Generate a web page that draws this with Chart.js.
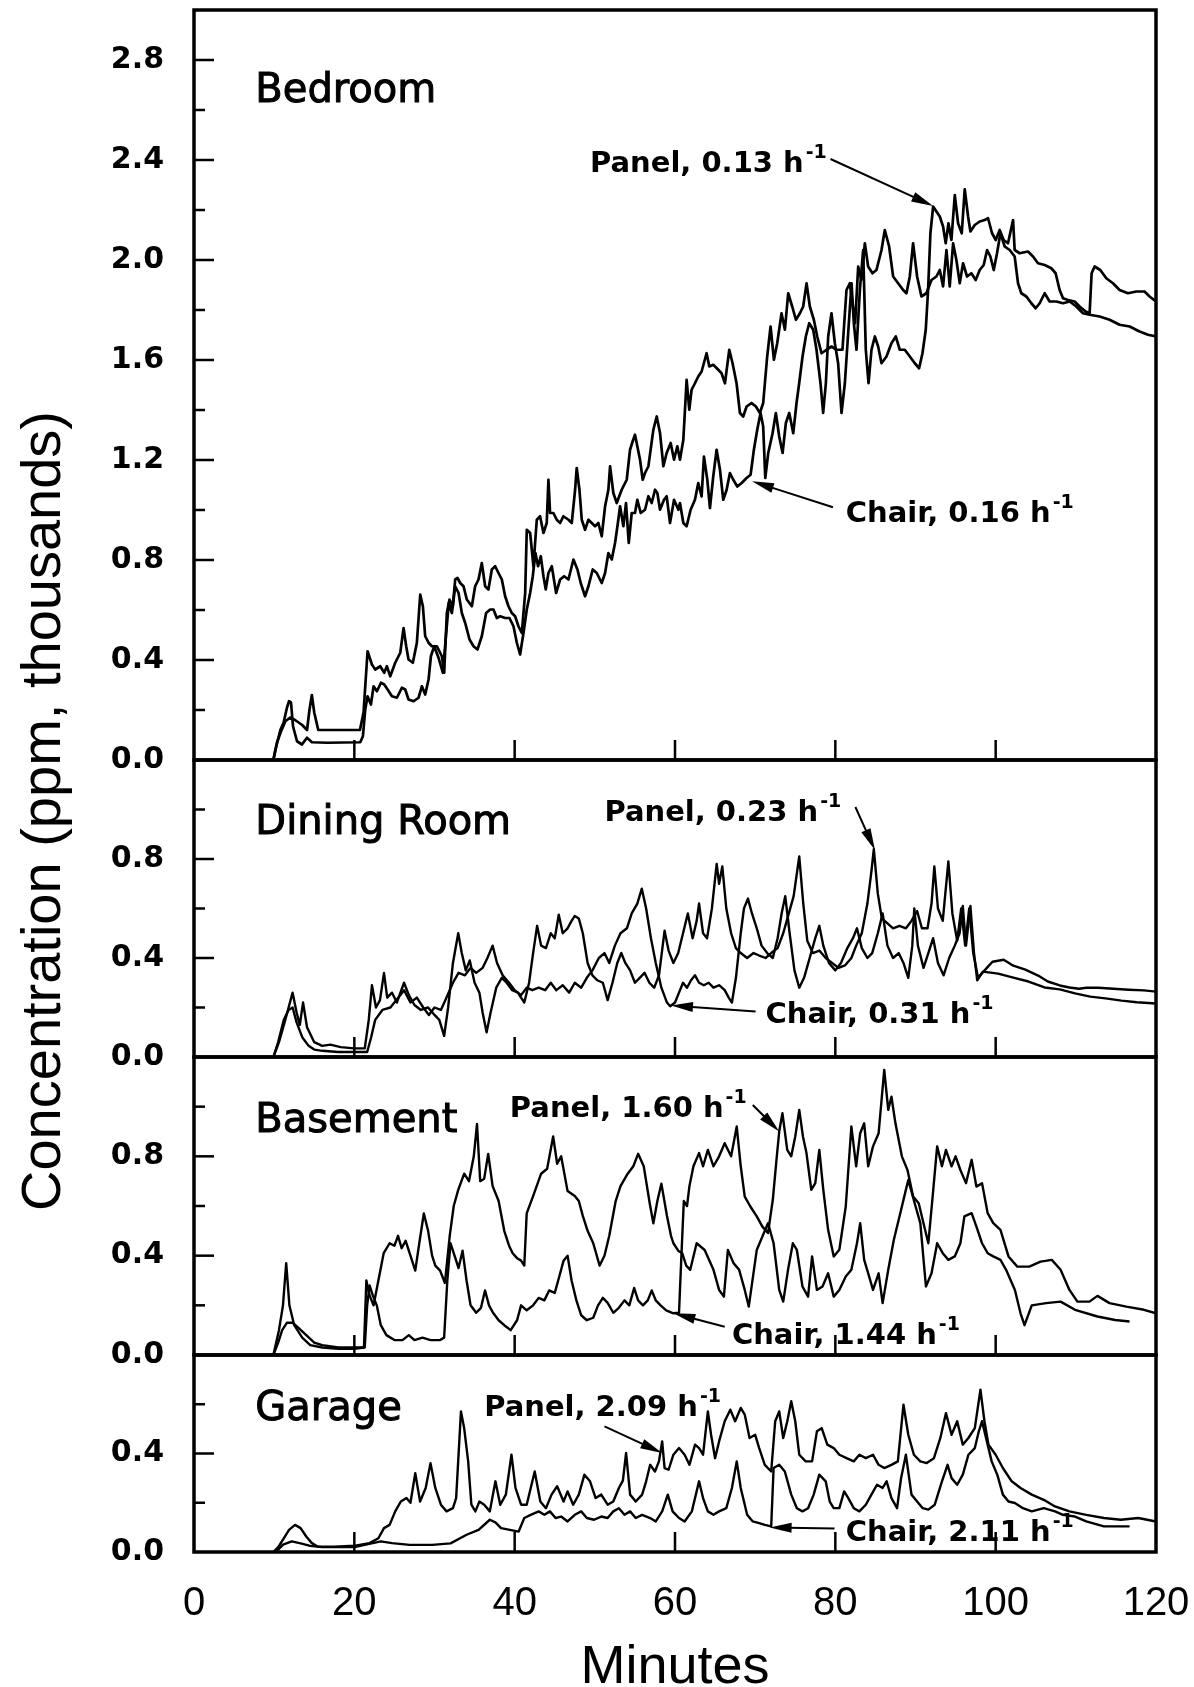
<!DOCTYPE html>
<html>
<head>
<meta charset="utf-8">
<script src="https://cdn.jsdelivr.net/npm/chart.js@4.4.0/dist/chart.umd.min.js"></script>
<style>
  html, body { margin: 0; padding: 0; background: #fff; }
  #page { position: relative; width: 1194px; height: 1687px; overflow: hidden; background: #fff; }
  #ytitle {
    position: absolute; left: -412px; top: 781px; width: 900px; height: 60px;
    line-height: 60px; text-align: center; white-space: nowrap; color: #000;
    font: 56px "Liberation Sans", Arial, sans-serif; transform: rotate(-90deg);
  }
</style>
</head>
<body>
<div id="page">
  <div id="ytitle">Concentration (ppm, thousands)</div>
</div>
<script>
// minutes on the shared x axis
const minuteTicks = [0, 20, 40, 60, 80, 100, 120];

// each series is [minute, concentration (ppm, thousands)]
const bedroomLineA = [[9.9,0],[10.35,0.07],[10.8,0.11],[11.4,0.155],[12.0,0.17],[12.6,0.16],[13.5,0.14],[14.1,0.12],[14.4,0.2],[14.7,0.26],[15.0,0.19],[15.5,0.12],[20.7,0.12],[21.15,0.19],[21.65,0.435],
  [22.19,0.382],[22.61,0.362],[23.23,0.375],[23.73,0.349],[24.06,0.375],[24.48,0.335],[25.1,0.389],[25.73,0.429],[26.14,0.528],[26.47,0.455],[26.76,0.402],[27.3,0.389],[27.8,0.469],[28.22,0.662],[28.55,0.615],[28.84,0.495],[29.26,0.469],[29.67,0.455],[30.3,0.455],[30.92,0.415],[31.21,0.349],[31.54,0.588],[31.87,0.642],[32.29,0.615],[32.58,0.722],[32.87,0.728],[33.2,0.708],[33.62,0.695],[34.03,0.642],[34.66,0.615],[35.07,0.695],[35.49,0.722],[35.9,0.788],[36.32,0.695],[36.73,0.682],[37.15,0.762],[37.57,0.775],[37.98,0.748],[38.4,0.722],[38.81,0.655],[39.23,0.615],[39.64,0.588],[40.06,0.575],[40.47,0.535],[40.89,0.508],[41.31,0.668],[41.51,0.921],[41.93,0.908],[42.34,0.775],[42.76,0.961],[43.17,0.975],[43.59,0.908],[44.0,0.948],[44.21,1.121],[44.42,0.988],[44.83,0.988],[45.25,0.961],[45.67,0.948],[46.08,0.975],[46.71,0.961],[47.12,0.948],[47.54,1.081],[47.74,1.168],[48.08,1.081],[48.37,0.961],[48.78,0.921],[49.2,0.961],[49.61,0.948],[50.03,0.935],[50.44,0.948],[50.86,0.895],[51.28,1.015],[51.69,1.081],[51.9,1.175],[52.31,1.068],[52.73,1.028],[53.35,1.081],[53.98,1.121],[54.39,1.241],[54.72,1.275],[55.01,1.301],[55.3,1.255],[55.64,1.201],[55.97,1.121],[56.26,1.148],[56.68,1.175],[57.3,1.321],[57.72,1.374],[58.13,1.308],[58.55,1.175],[58.96,1.228],[59.46,1.268],[59.88,1.201],[60.29,1.255],[60.62,1.201],[61.04,1.281],[61.45,1.521],[61.78,1.401],[62.07,1.481],[62.49,1.507],[62.9,1.534],[63.32,1.554],[63.94,1.627],[64.28,1.574],[64.77,1.581],[65.4,1.561],[65.81,1.547],[66.23,1.507],[66.77,1.641],[67.18,1.587],[67.68,1.507],[68.1,1.388],[68.51,1.374],[68.93,1.414],[69.55,1.428],[70.09,1.414],[70.59,1.388],[71.0,1.428],[71.5,1.614],[71.92,1.734],[72.34,1.601],[72.75,1.667],[73.29,1.787],[73.71,1.721],[74.12,1.867],[74.62,1.814],[75.08,1.761],[75.58,1.787],[75.99,1.814],[76.41,1.907],[76.82,1.814],[77.32,1.761],[77.74,1.694],[78.28,1.627],[78.9,1.641],[79.52,1.654],[80.15,1.641],[80.89,1.641],[81.39,1.88],[81.81,1.907],[82.14,1.827],[82.47,1.747],[82.85,1.974],[83.26,1.92],[83.68,2.067],[84.09,1.974],[84.63,1.947],[85.13,1.96],[85.76,2.04],[86.17,2.12],[86.71,2.054],[87.21,1.934],[87.83,1.907],[88.46,1.88],[88.87,1.867],[89.29,1.934],[89.7,2.067],[90.2,1.934],[90.74,1.854],[91.36,1.867],[91.99,1.92],[92.61,1.934],[93.03,1.96],[93.44,1.894],[93.86,2.04],[94.27,1.894],[94.69,2.067],[95.1,2.0],[95.52,1.907],[95.93,1.987],[96.43,1.934],[96.97,1.947],[97.51,1.92],[98.01,1.96],[98.51,1.98],[98.93,2.04],[99.34,2.014],[99.76,1.96],[100.17,2.027],[100.59,2.107],[101.13,2.054],[101.75,2.04],[102.37,2.014],[102.79,1.907],[103.2,1.867],[103.83,1.854],[104.45,1.827],[104.99,1.807],[105.49,1.827],[106.11,1.867],[106.73,1.834],[107.57,1.834],[108.4,1.827],[109.23,1.834],[110.06,1.814],[110.89,1.787],[111.72,1.781],[112.97,1.774],[114.21,1.761],[115.46,1.741],[116.71,1.734],[117.95,1.714],[119.0,1.701],[120,1.694]];

const bedroomLineB = [[9.9,0],[10.15,0.04],[10.77,0.12],[11.18,0.15],[11.6,0.21],[11.85,0.235],[12.1,0.23],[12.35,0.135],[12.85,0.075],[13.47,0.062],[14.09,0.089],[14.72,0.071],[16.6,0.069],[20.74,0.071],[21.07,0.095],[21.36,0.202],[21.65,0.255],[22.07,0.222],[22.4,0.295],[22.82,0.275],[23.32,0.309],[23.73,0.302],[24.15,0.282],[24.69,0.255],[25.31,0.249],[25.93,0.289],[26.35,0.282],[26.76,0.242],[27.39,0.235],[28.01,0.249],[28.43,0.295],[28.84,0.262],[29.26,0.322],[29.55,0.415],[29.96,0.455],[30.5,0.409],[31.04,0.349],[31.46,0.508],[31.79,0.628],[32.17,0.588],[32.58,0.695],[33.0,0.668],[33.41,0.588],[33.83,0.548],[34.37,0.482],[34.87,0.455],[35.36,0.442],[35.9,0.495],[36.44,0.588],[36.94,0.602],[37.36,0.602],[37.77,0.568],[38.19,0.575],[38.81,0.568],[39.35,0.568],[39.85,0.535],[40.27,0.469],[40.68,0.422],[41.1,0.508],[41.51,0.602],[41.93,0.668],[42.26,0.735],[42.59,0.828],[42.92,0.775],[43.26,0.815],[43.59,0.735],[43.88,0.682],[44.21,0.748],[44.63,0.775],[45.17,0.668],[45.67,0.722],[46.17,0.735],[46.71,0.722],[47.33,0.802],[47.83,0.762],[48.24,0.708],[48.78,0.655],[49.2,0.695],[49.74,0.762],[50.24,0.748],[50.86,0.708],[51.28,0.748],[51.69,0.828],[52.11,0.802],[52.52,0.868],[52.82,0.935],[53.15,1.015],[53.56,0.935],[53.89,1.028],[54.23,0.868],[54.6,0.988],[55.01,0.988],[55.3,1.041],[55.72,0.988],[56.26,1.001],[56.68,1.055],[57.09,1.028],[57.51,1.081],[57.8,1.068],[58.13,1.001],[58.63,1.041],[58.96,1.055],[59.38,0.948],[59.88,1.041],[60.42,1.001],[60.62,1.028],[61.04,0.948],[61.45,0.935],[61.95,1.001],[62.49,1.041],[62.9,1.108],[63.32,1.054],[63.61,1.214],[64.03,1.121],[64.36,1.008],[64.77,1.134],[65.19,1.241],[65.61,1.161],[66.02,1.041],[66.44,1.081],[66.85,1.148],[67.27,1.121],[67.77,1.094],[68.31,1.108],[68.93,1.128],[69.43,1.141],[69.84,1.241],[70.26,1.321],[70.67,1.388],[71.0,1.334],[71.26,1.128],[71.63,1.228],[72.17,1.307],[72.58,1.388],[73.0,1.294],[73.42,1.228],[73.83,1.348],[74.25,1.388],[74.75,1.307],[75.16,1.428],[75.49,1.507],[75.91,1.614],[76.32,1.694],[76.74,1.747],[77.24,1.721],[77.65,1.641],[78.15,1.507],[78.48,1.388],[78.82,1.507],[79.11,1.694],[79.52,1.787],[79.94,1.667],[80.35,1.587],[80.77,1.388],[81.19,1.507],[81.6,1.707],[82.02,1.907],[82.31,1.747],[82.64,1.641],[83.06,1.88],[83.47,2.04],[83.8,1.641],[84.14,1.507],[84.51,1.641],[84.93,1.694],[85.34,1.654],[85.76,1.587],[86.38,1.614],[87.0,1.667],[87.54,1.694],[88.04,1.641],[88.66,1.641],[89.29,1.614],[89.91,1.587],[90.45,1.567],[90.87,1.627],[91.28,1.721],[91.57,1.88],[91.86,2.107],[92.2,2.214],[92.61,2.194],[93.03,2.174],[93.44,2.134],[93.77,2.067],[94.11,2.147],[94.48,2.08],[94.9,2.26],[95.31,2.147],[95.77,2.107],[96.14,2.283],[96.56,2.174],[96.85,2.114],[97.39,2.14],[98.01,2.154],[98.63,2.16],[99.05,2.167],[99.55,2.107],[100.01,2.08],[100.5,2.12],[101.0,2.08],[101.54,2.067],[102.08,2.147],[102.17,2.16],[102.37,2.04],[102.99,2.027],[104.03,2.034],[104.66,2.014],[105.28,1.987],[106.11,1.98],[106.94,1.967],[107.48,1.947],[107.98,1.88],[108.4,1.847],[109.02,1.84],[109.85,1.834],[110.47,1.814],[111.22,1.794],[111.72,1.787],[111.97,1.947],[112.34,1.974],[113.05,1.96],[113.8,1.927],[114.63,1.907],[115.46,1.88],[116.5,1.867],[117.54,1.874],[118.57,1.874],[119.2,1.854],[120,1.834]];

const diningLineA = [[9.9,0],[10.6,0.06],[11.3,0.14],[11.8,0.2],[12.3,0.26],[12.8,0.18],[13.2,0.13],[13.6,0.22],[14.1,0.12],[15.0,0.06],[16.0,0.045],[17.0,0.05],[18.3,0.04],[20.0,0.035],[21.3,0.035],[21.8,0.15],[22.2,0.29],[22.7,0.2],[23.2,0.23],[23.7,0.34],[24.1,0.24],[24.7,0.26],[25.3,0.22],[26.2,0.3],[26.8,0.25],[27.5,0.21],[28.3,0.19],[29.2,0.2],[30.0,0.17],[30.6,0.15],[31.2,0.085],[31.7,0.2],[32.3,0.38],[32.96,0.5],[33.4,0.42],[33.9,0.35],[34.4,0.39],[35.0,0.3],[35.6,0.26],[36.0,0.18],[36.5,0.1],[37.0,0.18],[37.7,0.28],[38.4,0.32],[39.0,0.3],[39.7,0.27],[40.4,0.26],[41.2,0.22],[41.8,0.3],[42.3,0.42],[42.8,0.53],[43.3,0.45],[43.9,0.44],[44.5,0.5],[45.0,0.48],[45.5,0.575],[46.0,0.5],[46.6,0.52],[47.1,0.55],[47.5,0.57],[48.0,0.56],[48.5,0.5],[49.1,0.38],[49.7,0.33],[50.3,0.31],[51.0,0.3],[51.6,0.23],[52.2,0.3],[52.8,0.38],[53.3,0.42],[53.8,0.38],[54.4,0.35],[55.0,0.3],[55.6,0.32],[56.2,0.34],[56.8,0.3],[57.4,0.28],[58.0,0.33],[58.7,0.51],[59.2,0.43],[59.8,0.38],[60.4,0.42],[61.0,0.5],[61.6,0.58],[62.2,0.48],[62.7,0.55],[63.0,0.62],[63.5,0.5],[64.0,0.48],[64.6,0.6],[65.2,0.78],[65.5,0.7],[65.9,0.77],[66.4,0.6],[67.0,0.5],[67.6,0.44],[68.2,0.42],[69.0,0.4],[69.8,0.42],[70.5,0.41],[71.3,0.4],[72.0,0.42],[72.8,0.44],[73.5,0.5],[74.2,0.58],[74.8,0.65],[75.5,0.81],[76.0,0.62],[76.5,0.47],[77.2,0.42],[78.0,0.43],[78.8,0.4],[79.6,0.38],[80.4,0.36],[81.2,0.37],[82.0,0.4],[82.6,0.45],[83.3,0.5],[84.0,0.62],[84.5,0.75],[84.8,0.84],[85.3,0.66],[85.8,0.56],[86.5,0.54],[87.2,0.52],[88.0,0.53],[88.8,0.52],[89.5,0.55],[90.2,0.59],[90.8,0.52],[91.5,0.52],[92.0,0.62],[92.35,0.77],[92.8,0.6],[93.4,0.55],[94.1,0.79],[94.6,0.58],[95.2,0.47],[95.7,0.6],[96.2,0.45],[96.7,0.6],[97.2,0.42],[97.8,0.32],[98.9,0.36],[99.6,0.385],[101.0,0.393],[102.2,0.369],[103.7,0.353],[105.3,0.329],[106.5,0.305],[108.0,0.289],[109.2,0.281],[110.4,0.276],[111.3,0.28],[112.8,0.28],[114.7,0.276],[116.6,0.272],[118.5,0.269],[120,0.264]];

const diningLineB = [[9.9,0],[10.5,0.06],[11.2,0.15],[11.8,0.19],[12.3,0.2],[12.8,0.14],[13.5,0.08],[14.3,0.045],[15.0,0.03],[16.0,0.025],[18.0,0.02],[20.0,0.02],[21.6,0.02],[22.1,0.08],[22.6,0.15],[23.5,0.19],[24.5,0.2],[25.5,0.24],[26.2,0.27],[27.0,0.22],[27.8,0.24],[28.6,0.2],[29.3,0.17],[30.0,0.2],[30.8,0.19],[31.5,0.24],[32.3,0.3],[33.0,0.34],[33.8,0.33],[34.5,0.36],[35.2,0.34],[36.0,0.36],[36.6,0.4],[37.25,0.45],[37.8,0.38],[38.5,0.33],[39.3,0.3],[40.0,0.27],[40.8,0.25],[41.5,0.28],[42.2,0.27],[43.0,0.28],[43.8,0.27],[44.5,0.3],[45.2,0.27],[46.0,0.29],[46.8,0.26],[47.5,0.3],[48.3,0.28],[49.0,0.32],[49.7,0.35],[50.5,0.4],[51.2,0.42],[51.8,0.38],[52.5,0.45],[53.2,0.5],[54.0,0.52],[54.6,0.58],[55.3,0.62],[55.86,0.68],[56.4,0.6],[57.0,0.48],[57.6,0.38],[58.3,0.28],[59.0,0.22],[59.4,0.205],[60.0,0.22],[60.5,0.26],[61.0,0.3],[61.5,0.28],[62.0,0.31],[62.5,0.33],[63.0,0.3],[63.6,0.29],[64.2,0.3],[64.8,0.28],[65.5,0.29],[66.2,0.27],[66.7,0.24],[67.1,0.22],[67.6,0.32],[68.2,0.5],[68.6,0.6],[69.1,0.64],[69.6,0.58],[70.2,0.52],[70.8,0.45],[71.5,0.42],[72.2,0.4],[72.8,0.48],[73.3,0.58],[73.75,0.65],[74.3,0.5],[74.9,0.35],[75.5,0.28],[76.1,0.32],[76.8,0.4],[77.5,0.48],[78.0,0.53],[78.5,0.45],[79.2,0.38],[80.0,0.35],[80.7,0.38],[81.5,0.44],[82.2,0.48],[82.7,0.52],[83.3,0.44],[84.0,0.4],[84.6,0.42],[85.3,0.5],[85.9,0.58],[86.5,0.45],[87.2,0.4],[87.9,0.42],[88.5,0.38],[89.1,0.32],[89.6,0.45],[89.85,0.6],[90.3,0.45],[91.0,0.36],[91.6,0.42],[92.2,0.48],[92.8,0.38],[93.5,0.33],[94.2,0.4],[94.9,0.45],[95.5,0.5],[95.9,0.61],[96.3,0.45],[96.85,0.61],[97.3,0.42],[97.7,0.31],[98.4,0.345],[100.3,0.337],[102.2,0.321],[104.1,0.305],[106.1,0.281],[108.0,0.273],[109.9,0.257],[111.8,0.244],[113.7,0.237],[115.7,0.228],[117.6,0.221],[120,0.216]];

const basementLineA = [[9.9,0],[10.6,0.1],[11.1,0.2],[11.5,0.37],[11.9,0.2],[12.5,0.12],[13.5,0.07],[14.5,0.04],[16,0.03],[18,0.025],[20,0.025],[21.2,0.03],[21.5,0.3],[21.9,0.24],[22.4,0.2],[23.0,0.3],[23.66,0.41],[24.4,0.45],[25.0,0.44],[25.45,0.48],[25.9,0.43],[26.4,0.46],[27.0,0.4],[27.6,0.34],[28.1,0.45],[28.67,0.57],[29.2,0.5],[29.7,0.4],[30.1,0.36],[30.7,0.34],[31.3,0.29],[31.9,0.48],[32.4,0.6],[32.96,0.665],[33.7,0.73],[34.3,0.7],[34.9,0.8],[35.3,0.93],[35.7,0.7],[36.2,0.71],[36.7,0.81],[37.25,0.68],[38.0,0.62],[38.7,0.5],[39.3,0.44],[39.75,0.41],[40.3,0.39],[40.8,0.38],[41.2,0.36],[41.5,0.57],[42.3,0.64],[43.3,0.73],[44.05,0.75],[44.8,0.88],[45.3,0.77],[45.8,0.8],[46.6,0.66],[47.5,0.64],[48.0,0.62],[48.5,0.56],[49.1,0.5],[49.8,0.45],[50.6,0.36],[51.2,0.4],[51.8,0.48],[52.6,0.62],[53.2,0.68],[54.1,0.73],[54.8,0.76],[55.4,0.81],[56.1,0.76],[56.85,0.61],[57.3,0.53],[57.8,0.62],[58.3,0.69],[59.0,0.56],[59.5,0.48],[59.8,0.45],[60.4,0.42],[60.9,0.41],[61.4,0.36],[61.9,0.343],[62.7,0.45],[63.7,0.423],[64.8,0.343],[65.5,0.262],[66.1,0.235],[66.6,0.423],[67.3,0.37],[68.0,0.343],[68.7,0.262],[69.2,0.195],[70.2,0.423],[71.6,0.531],[72.3,0.45],[73.0,0.262],[73.5,0.215],[74.1,0.343],[74.7,0.45],[75.2,0.423],[75.9,0.276],[76.6,0.235],[77.1,0.397],[77.7,0.262],[78.4,0.276],[79.1,0.329],[79.8,0.235],[80.5,0.262],[81.3,0.316],[82.0,0.343],[82.7,0.45],[83.1,0.531],[83.6,0.383],[84.1,0.329],[84.7,0.262],[85.4,0.329],[85.9,0.209],[86.6,0.343],[87.3,0.464],[88.1,0.571],[88.8,0.665],[89.1,0.705],[89.9,0.611],[90.6,0.531],[91.3,0.276],[92.0,0.329],[92.7,0.45],[93.4,0.41],[94.1,0.383],[94.9,0.397],[95.6,0.45],[96.1,0.558],[97.0,0.571],[97.6,0.517],[98.3,0.45],[99.0,0.41],[99.7,0.397],[100.6,0.383],[101.3,0.343],[102.4,0.262],[103.1,0.168],[103.6,0.12],[104.5,0.2],[106.3,0.209],[108.1,0.215],[109.9,0.182],[112.7,0.155],[114.9,0.141],[116.7,0.135]];

const basementLineB = [[9.9,0],[10.5,0.05],[11.0,0.1],[11.6,0.13],[12.3,0.13],[13.0,0.11],[14.0,0.08],[15.0,0.05],[16.0,0.04],[18.0,0.03],[20.0,0.03],[21.3,0.03],[21.6,0.2],[21.9,0.28],[22.3,0.24],[22.8,0.2],[23.3,0.12],[24.0,0.08],[25.0,0.06],[26.0,0.06],[26.8,0.08],[27.5,0.06],[28.5,0.07],[29.5,0.06],[30.7,0.06],[31.2,0.07],[31.6,0.3],[32.0,0.45],[32.5,0.4],[33.0,0.35],[33.5,0.42],[34.0,0.3],[34.5,0.2],[35.2,0.17],[35.8,0.19],[36.3,0.26],[36.8,0.2],[37.3,0.17],[38.0,0.14],[38.7,0.12],[39.5,0.1],[40.3,0.14],[40.8,0.2],[41.5,0.18],[42.3,0.2],[43.0,0.23],[43.7,0.22],[44.3,0.26],[45.0,0.25],[45.6,0.32],[46.1,0.38],[46.6,0.4],[47.1,0.3],[47.7,0.22],[48.3,0.16],[49.0,0.14],[49.8,0.15],[50.4,0.2],[51.0,0.23],[51.6,0.21],[52.3,0.17],[53.0,0.19],[53.7,0.22],[54.3,0.2],[54.9,0.27],[55.4,0.22],[56.0,0.2],[56.6,0.22],[57.1,0.26],[57.6,0.22],[58.2,0.2],[58.9,0.18],[59.8,0.168],[60.5,0.17],[60.8,0.4],[61.1,0.62],[61.5,0.6],[61.8,0.68],[62.3,0.76],[63.0,0.813],[63.5,0.76],[64.1,0.826],[64.8,0.76],[65.5,0.8],[66.2,0.853],[67.0,0.8],[67.7,0.92],[68.2,0.76],[68.7,0.638],[69.4,0.598],[70.2,0.558],[70.9,0.517],[71.6,0.491],[72.2,0.625],[72.7,0.8],[73.0,0.9],[73.4,0.974],[74.0,0.826],[74.5,0.8],[75.0,0.88],[75.5,0.987],[75.96,0.88],[76.4,0.813],[77.0,0.665],[77.5,0.692],[78.0,0.826],[78.5,0.665],[79.1,0.504],[79.8,0.397],[80.5,0.424],[81.3,0.598],[82.0,0.92],[82.6,0.76],[83.1,0.893],[83.6,0.933],[84.1,0.76],[84.7,0.84],[85.4,0.893],[86.1,1.148],[86.6,0.987],[87.0,1.04],[87.5,0.933],[88.3,0.8],[89.0,0.745],[89.7,0.638],[90.4,0.611],[90.9,0.544],[91.6,0.45],[92.1,0.625],[92.7,0.84],[93.3,0.76],[93.8,0.826],[94.5,0.76],[95.0,0.8],[95.6,0.745],[96.3,0.692],[97.0,0.786],[97.6,0.678],[98.3,0.692],[99.0,0.571],[99.7,0.531],[100.6,0.504],[101.6,0.397],[102.7,0.356],[104.2,0.356],[105.6,0.376],[107.0,0.383],[108.1,0.343],[109.2,0.262],[110.2,0.215],[111.7,0.215],[112.7,0.238],[114.2,0.209],[116.3,0.195],[118.5,0.182],[120,0.168]];

const garageLineA = [[9.9,0],[10.5,0.02],[11.1,0.05],[11.85,0.09],[12.6,0.11],[13.3,0.097],[14.0,0.063],[14.7,0.036],[15.4,0.022],[17.5,0.022],[20.1,0.026],[21.9,0.036],[23.0,0.056],[23.7,0.097],[24.4,0.11],[25.1,0.165],[25.8,0.205],[26.5,0.219],[27.0,0.2],[27.6,0.32],[28.2,0.205],[28.9,0.26],[29.5,0.361],[30.1,0.26],[30.8,0.192],[31.5,0.165],[32.3,0.178],[32.7,0.219],[33.3,0.571],[33.7,0.503],[34.2,0.368],[34.6,0.192],[35.1,0.165],[35.6,0.205],[36.2,0.192],[36.9,0.165],[37.6,0.287],[38.2,0.192],[38.9,0.233],[39.6,0.395],[40.1,0.26],[40.8,0.192],[41.5,0.192],[42.5,0.327],[43.2,0.205],[43.9,0.178],[44.6,0.233],[45.3,0.267],[46.1,0.205],[46.6,0.246],[47.3,0.192],[48.0,0.233],[48.7,0.314],[49.4,0.287],[50.1,0.219],[50.8,0.233],[51.6,0.192],[52.3,0.205],[53.0,0.26],[53.5,0.29],[53.9,0.402],[54.4,0.233],[55.1,0.205],[55.9,0.233],[56.4,0.287],[56.9,0.354],[57.5,0.327],[58.0,0.368],[58.4,0.449],[58.7,0.341],[59.2,0.334],[59.8,0.395],[60.5,0.422],[61.2,0.395],[61.8,0.354],[62.5,0.436],[63.0,0.422],[63.5,0.395],[64.1,0.571],[64.5,0.476],[65.0,0.381],[65.5,0.449],[66.2,0.531],[66.9,0.578],[67.5,0.531],[68.2,0.585],[68.7,0.558],[69.3,0.463],[70.0,0.476],[70.5,0.422],[71.2,0.354],[72.0,0.327],[72.5,0.531],[73.0,0.571],[73.5,0.463],[74.0,0.53],[74.5,0.612],[75.0,0.531],[75.5,0.395],[76.3,0.368],[77.1,0.368],[77.7,0.49],[78.3,0.503],[79.0,0.436],[79.8,0.422],[80.5,0.395],[81.4,0.381],[82.3,0.368],[83.0,0.395],[83.8,0.381],[84.7,0.395],[85.4,0.354],[86.1,0.341],[87.0,0.354],[87.8,0.368],[88.5,0.598],[89.1,0.476],[89.8,0.395],[90.6,0.368],[91.4,0.361],[92.3,0.381],[93.1,0.463],[93.8,0.564],[94.5,0.476],[95.2,0.531],[95.9,0.436],[96.6,0.463],[97.4,0.503],[98.1,0.659],[98.6,0.531],[99.1,0.436],[100.0,0.395],[100.9,0.341],[102.0,0.287],[103.1,0.26],[104.5,0.233],[106.0,0.212],[107.4,0.185],[109.2,0.165],[111.3,0.151],[113.5,0.138],[115.6,0.131],[117.8,0.138],[120,0.124]];

const garageLineB = [[9.9,0],[10.5,0.01],[11.1,0.03],[12.2,0.043],[13.3,0.035],[14.5,0.025],[16,0.02],[20,0.02],[23.3,0.043],[24.7,0.036],[26.9,0.029],[29.7,0.029],[32.0,0.035],[34.0,0.07],[35.5,0.09],[36.9,0.131],[37.6,0.12],[38.3,0.097],[39.4,0.09],[40.5,0.083],[41.2,0.138],[42.0,0.151],[43.0,0.165],[43.7,0.151],[44.4,0.165],[45.1,0.138],[45.8,0.144],[46.6,0.124],[47.5,0.151],[48.3,0.165],[49.0,0.138],[49.9,0.131],[50.8,0.144],[51.6,0.138],[52.3,0.165],[53.0,0.178],[53.7,0.151],[54.4,0.165],[55.1,0.138],[55.9,0.151],[56.9,0.138],[57.6,0.124],[58.4,0.165],[59.1,0.233],[59.7,0.165],[60.5,0.138],[61.2,0.124],[62.1,0.165],[63.0,0.287],[63.5,0.219],[64.1,0.165],[64.8,0.151],[65.5,0.165],[66.4,0.178],[67.1,0.26],[67.7,0.368],[68.2,0.26],[69.0,0.151],[69.7,0.124],[70.5,0.117],[71.2,0.11],[72.0,0.104],[72.3,0.341],[73.0,0.354],[73.7,0.327],[74.5,0.233],[75.2,0.178],[75.9,0.165],[76.6,0.178],[77.3,0.233],[78.0,0.314],[78.8,0.287],[79.3,0.205],[79.8,0.178],[80.5,0.178],[81.1,0.246],[81.6,0.22],[82.3,0.178],[83.0,0.165],[83.8,0.192],[84.5,0.233],[85.2,0.273],[85.9,0.26],[86.4,0.287],[87.0,0.219],[87.7,0.178],[88.2,0.3],[88.8,0.395],[89.5,0.233],[90.2,0.205],[90.9,0.178],[91.6,0.172],[92.4,0.192],[93.3,0.287],[94.0,0.354],[94.5,0.3],[95.2,0.273],[95.9,0.314],[96.6,0.395],[97.4,0.422],[97.9,0.49],[98.3,0.531],[98.8,0.463],[99.5,0.368],[100.2,0.314],[100.9,0.233],[101.6,0.205],[102.4,0.199],[103.4,0.178],[104.5,0.165],[106.0,0.178],[107.4,0.165],[108.4,0.151],[109.9,0.144],[111.3,0.124],[113.5,0.104],[115.6,0.104],[116.7,0.104]];

// room name, y-axis top and the labelled arrows (in minutes / concentration)
const rooms = [
  { name: 'Bedroom', yMax: 3.0, lines: [bedroomLineA, bedroomLineB], nameAt: [7.65, 2.632],
    notes: [
      { text: 'Panel, 0.13 h', at: [49.4, 2.352], from: [79.4, 2.404], to: [92.2, 2.216] },
      { text: 'Chair, 0.16 h', at: [81.3, 0.953], from: [79.7, 1.011], to: [69.6, 1.115] }
    ] },
  { name: 'Dining Room', yMax: 1.2, lines: [diningLineA, diningLineB], nameAt: [7.65, 0.899],
    notes: [
      { text: 'Panel, 0.23 h', at: [51.2, 0.953], from: [82.5, 1.01], to: [84.95, 0.835] },
      { text: 'Chair, 0.31 h', at: [71.3, 0.136], from: [70.05, 0.184], to: [59.5, 0.208] }
    ] },
  { name: 'Basement', yMax: 1.2, lines: [basementLineA, basementLineB], nameAt: [7.65, 0.896],
    notes: [
      { text: 'Panel, 1.60 h', at: [39.4, 0.96], from: [69.7, 1.007], to: [73.0, 0.9] },
      { text: 'Chair, 1.44 h', at: [67.1, 0.045], from: [66.2, 0.114], to: [59.8, 0.168] }
    ] },
  { name: 'Garage', yMax: 0.8, lines: [garageLineA, garageLineB], nameAt: [7.65, 0.537],
    notes: [
      { text: 'Panel, 2.09 h', at: [36.2, 0.551], from: [51.2, 0.51], to: [58.4, 0.402] },
      { text: 'Chair, 2.11 h', at: [81.3, 0.043], from: [79.9, 0.095], to: [71.8, 0.1] }
    ] }
];

// page layout (pixels)
const pageW = 1194, pageH = 1687;
const plotLeft = 194, plotRight = 1156;
const rows = [[10, 760], [760, 1057], [1057, 1355], [1355, 1552]];
const pad = 24;
const minutesBaseline = 1683;

function drawArrow(ctx, x0, y0, x1, y1) {
  const a = Math.atan2(y1 - y0, x1 - x0);
  const len = 22, half = 5;
  const c = Math.cos(a), s = Math.sin(a);
  ctx.lineWidth = 2;
  ctx.beginPath();
  ctx.moveTo(x0, y0);
  ctx.lineTo(x1 - c * len * 0.8, y1 - s * len * 0.8);
  ctx.stroke();
  ctx.beginPath();
  ctx.moveTo(x1, y1);
  ctx.lineTo(x1 - c * len + s * half, y1 - s * len - c * half);
  ctx.lineTo(x1 - c * len - s * half, y1 - s * len + c * half);
  ctx.closePath();
  ctx.fill();
}

function makeDecor(room, isLast, canvasTop) {
  return {
    id: 'roomDecor',
    afterDatasetsDraw(chart) {
      const { ctx, chartArea: a, scales: { x, y } } = chart;
      ctx.save();
      ctx.strokeStyle = '#000';
      ctx.fillStyle = '#000';
      ctx.lineCap = 'butt';

      // frame
      ctx.lineWidth = 3.5;
      ctx.strokeRect(a.left, a.top, a.right - a.left, a.bottom - a.top);

      // inward ticks on the left
      ctx.lineWidth = 2.5;
      y.ticks.forEach(t => {
        const k = Math.round(t.value * 5);
        if (t.value <= 0 || t.value >= room.yMax - 1e-9) return;
        const py = y.getPixelForValue(t.value);
        const len = k % 2 === 0 ? 20 : 11;
        ctx.beginPath(); ctx.moveTo(a.left, py); ctx.lineTo(a.left + len, py); ctx.stroke();
      });
      // inward ticks at the bottom
      minuteTicks.forEach(m => {
        if (m <= 0 || m >= 120) return;
        const px = x.getPixelForValue(m);
        ctx.beginPath(); ctx.moveTo(px, a.bottom); ctx.lineTo(px, a.bottom - 20); ctx.stroke();
      });

      // room name, slightly heavier than the regular face
      ctx.font = '40px "DejaVu Sans"';
      ctx.textAlign = 'left';
      ctx.textBaseline = 'alphabetic';
      const nx = x.getPixelForValue(room.nameAt[0]), ny = y.getPixelForValue(room.nameAt[1]);
      ctx.fillText(room.name, nx, ny);
      ctx.lineWidth = 1;
      ctx.strokeText(room.name, nx, ny);

      // labelled arrows
      room.notes.forEach(n => {
        const tx = x.getPixelForValue(n.at[0]), ty = y.getPixelForValue(n.at[1]);
        ctx.font = 'bold 29px "DejaVu Sans"';
        ctx.fillText(n.text, tx, ty);
        const w = ctx.measureText(n.text).width;
        ctx.font = 'bold 19px "DejaVu Sans"';
        ctx.fillText('-1', tx + w + 2, ty - 14);
        drawArrow(ctx, x.getPixelForValue(n.from[0]), y.getPixelForValue(n.from[1]),
          x.getPixelForValue(n.to[0]), y.getPixelForValue(n.to[1]));
      });

      if (isLast) {
        ctx.font = '54px "Liberation Sans"';
        ctx.textAlign = 'center';
        ctx.fillText('Minutes', (a.left + a.right) / 2, minutesBaseline - canvasTop);
      }
      ctx.restore();
    }
  };
}

const page = document.getElementById('page');
const yTitle = document.getElementById('ytitle');

rooms.forEach((room, i) => {
  const [top, bottom] = rows[i];
  const isLast = i === rooms.length - 1;
  const canvasTop = top - pad;
  const canvasH = isLast ? pageH - canvasTop : bottom - top + 2 * pad;

  const canvas = document.createElement('canvas');
  canvas.width = pageW;
  canvas.height = canvasH;
  canvas.style.cssText = `position:absolute;left:0;top:${canvasTop}px;width:${pageW}px;height:${canvasH}px;`;
  page.insertBefore(canvas, yTitle);

  const steps = Math.round(room.yMax / 0.2);
  const yValues = [];
  for (let k = 0; k <= steps; k++) yValues.push(+(k * 0.2).toFixed(1));

  new Chart(canvas, {
    type: 'line',
    data: {
      datasets: room.lines.map(line => ({
        data: line.map(([t, v]) => ({ x: t, y: v })),
        borderColor: '#000',
        borderWidth: i === 0 ? 2.7 : 2.4,
        borderJoinStyle: 'round',
        pointRadius: 0,
        fill: false,
        tension: 0
      }))
    },
    options: {
      responsive: false,
      animation: false,
      events: [],
      layout: { padding: { top: pad, bottom: isLast ? 0 : pad, left: 0, right: pageW - plotRight } },
      plugins: { legend: { display: false }, tooltip: { enabled: false } },
      scales: {
        x: {
          type: 'linear',
          min: 0,
          max: 120,
          display: isLast,
          afterBuildTicks: s => { s.ticks = minuteTicks.map(v => ({ value: v })); },
          afterFit: s => {
            if (!isLast) return;
            s.height = pageH - bottom;
            s.paddingLeft = 0;
            s.paddingRight = 0;
          },
          grid: { display: false, drawTicks: false },
          border: { display: false },
          ticks: {
            autoSkip: false,
            maxRotation: 0,
            padding: 28,
            color: '#000',
            font: { family: 'Liberation Sans', size: 40 },
            callback: v => String(v)
          }
        },
        y: {
          type: 'linear',
          min: 0,
          max: room.yMax,
          afterBuildTicks: s => { s.ticks = yValues.map(v => ({ value: v })); },
          afterFit: s => { s.width = plotLeft; s.paddingTop = 0; s.paddingBottom = 0; },
          grid: { display: false, drawTicks: false },
          border: { display: false },
          ticks: {
            autoSkip: false,
            padding: 30,
            color: '#000',
            font: { family: 'DejaVu Sans', size: 30, weight: 'bold' },
            callback: v => {
              const k = Math.round(v / 0.2);
              return (k % 2 === 0 && k < steps) ? (k * 0.2).toFixed(1) : '';
            }
          }
        }
      }
    },
    plugins: [makeDecor(room, isLast, canvasTop)]
  });
});
</script>
</body>
</html>
